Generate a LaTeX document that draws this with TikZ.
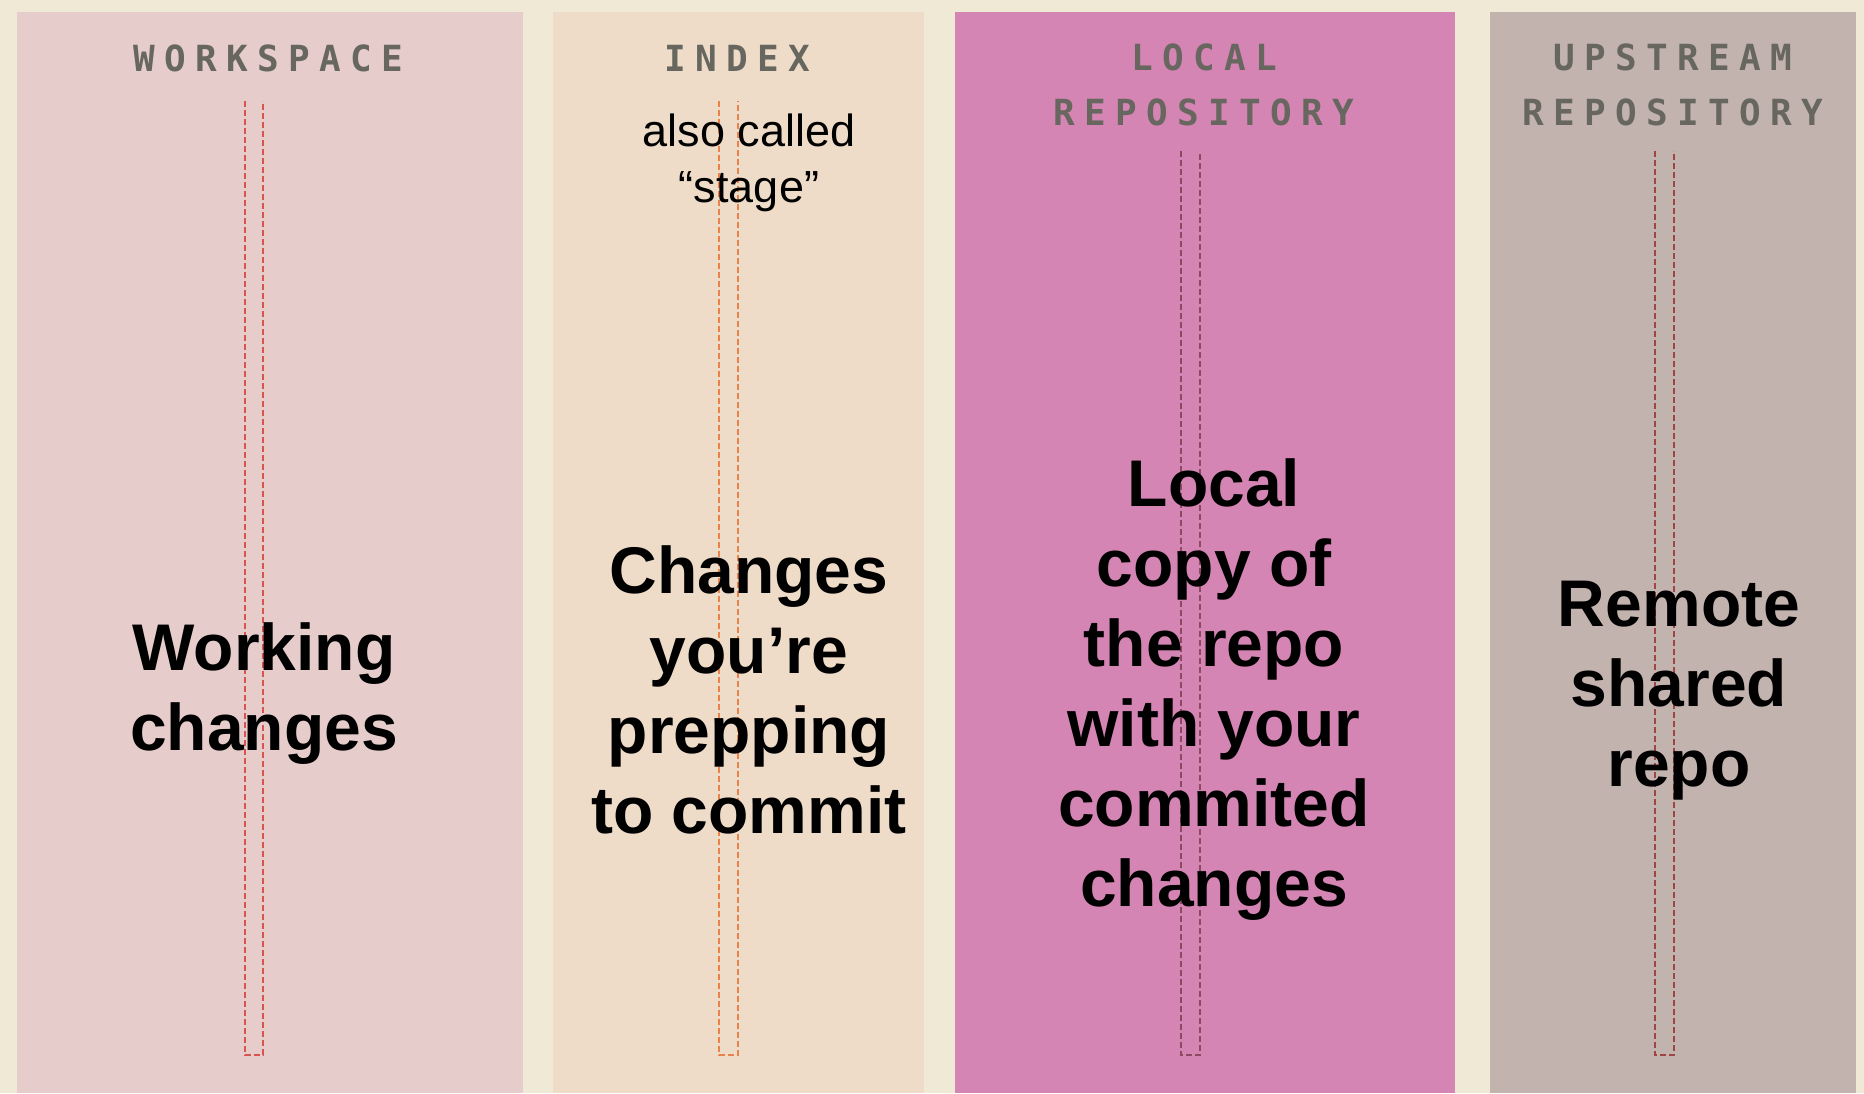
\documentclass[tikz,border=0pt]{standalone}
\usepackage{fontspec}
\setmainfont{Liberation Sans}
\newfontfamily\hdrfont[LetterSpace=26]{DejaVu Sans Mono}
\definecolor{bgcream}{HTML}{EFE9D6}
\definecolor{colA}{HTML}{E6CDCB}
\definecolor{colB}{HTML}{EEDCC9}
\definecolor{colC}{HTML}{D585B3}
\definecolor{colD}{HTML}{C3B3AF}
\definecolor{hdrgray}{HTML}{67675F}
\definecolor{dashA}{HTML}{D9534F}
\definecolor{dashB}{HTML}{E8844A}
\definecolor{dashC}{HTML}{8A4A60}
\definecolor{dashD}{HTML}{A04545}
\tikzset{
  hdr/.style={text=hdrgray, font=\hdrfont\bfseries\fontsize{36}{55}\selectfont, align=center, inner sep=0pt},
  body/.style={text=black, font=\bfseries\fontsize{66}{80}\selectfont, align=center, inner sep=0pt},
  note/.style={text=black, font=\fontsize{45}{56}\selectfont, align=center, inner sep=0pt},
  guide/.style={dash pattern=on 6pt off 3pt, line width=1.6pt}
}
\begin{document}
\begin{tikzpicture}[x=1pt,y=-1pt]
\useasboundingbox (0,0) rectangle (1864,1093);
\fill[bgcream] (0,0) rectangle (1864,1093);
% lanes
\fill[colA] (17,12) rectangle (523,1093);
\fill[colB] (553,12) rectangle (924,1093);
\fill[colC] (955,12) rectangle (1455,1093);
\fill[colD] (1490,12) rectangle (1856,1093);
% guides
\draw[guide, draw=dashA] (245,101) -- (245,1055) -- (263,1055) -- (263,101);
\draw[guide, draw=dashB] (719,101) -- (719,1055) -- (738,1055) -- (738,101);
\draw[guide, draw=dashC] (1181,151) -- (1181,1055) -- (1200,1055) -- (1200,151);
\draw[guide, draw=dashD] (1655,151) -- (1655,1055) -- (1674,1055) -- (1674,151);
% headers
\node[hdr] (h1) at (268,58) {WORKSPACE};
\node[hdr] (h2) at (737,58) {INDEX};
\node[hdr] (h3) at (1204,85) {LOCAL\\REPOSITORY};
\node[hdr] (h4) at (1673,85) {UPSTREAM\\REPOSITORY};
% notes
\node[note] (n2) at (749,163) {also called\\“stage”};
% bodies
\node[body] (b1) at (264,694) {Working\\changes};
\node[body] (b2) at (749,690) {Changes\\you’re\\prepping\\to commit};
\node[body] (b3) at (1214,690) {Local\\copy of\\the repo\\with your\\commited\\changes};
\node[body] (b4) at (1679,691) {Remote\\shared\\repo};
\end{tikzpicture}
\end{document}
